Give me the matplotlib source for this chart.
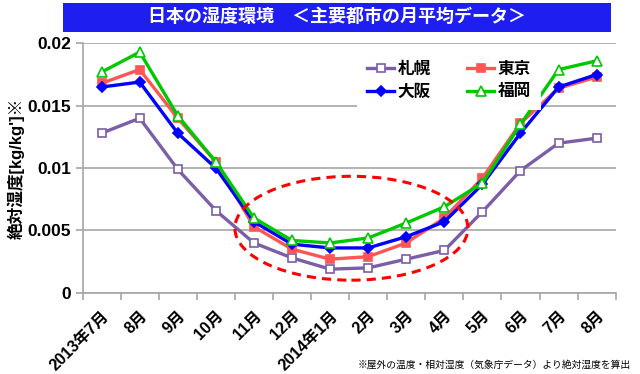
import numpy as np
import matplotlib.pyplot as plt
from matplotlib.patches import Ellipse, Rectangle
from matplotlib.ticker import FixedLocator, FuncFormatter

# -------------------------
# Daten
# -------------------------

months = ["2013年7月", "8月", "9月", "10月", "11月", "12月", "2014年1月",
          "2月", "3月", "4月", "5月", "6月", "7月", "8月"]

sapporo = [0.0128, 0.0140, 0.0099, 0.0066, 0.0040, 0.0028, 0.0019,
           0.0020, 0.0027, 0.0034, 0.0065, 0.0098, 0.0120, 0.0124]
tokyo = [0.0168, 0.0179, 0.0140, 0.0105, 0.0053, 0.0035, 0.0027,
         0.0029, 0.0040, 0.0060, 0.0092, 0.0136, 0.0164, 0.0173]
osaka = [0.0165, 0.0169, 0.0128, 0.0100, 0.0057, 0.0039, 0.0036,
         0.0036, 0.0045, 0.0057, 0.0087, 0.0128, 0.0165, 0.0175]
fukuoka = [0.0177, 0.0193, 0.0142, 0.0105, 0.0060, 0.0042, 0.0040,
           0.0044, 0.0056, 0.0069, 0.0088, 0.0135, 0.0179, 0.0186]

FONT = ["Liberation Sans", "Noto Sans CJK JP"]
plt.rcParams["font.family"] = FONT

# -------------------------
# Plot
# -------------------------

fig = plt.figure(figsize=(6.4, 3.74), dpi=100, facecolor="white")
ax = fig.add_axes([0.129, 0.217, 0.833, 0.667])

x = np.arange(len(months))

series = [
    ("札幌", sapporo, "#7B5EA7", "s", "white", 5.5),
    ("東京", tokyo, "#FF5555", "s", "#FF5555", 5.5),
    ("大阪", osaka, "#0000FF", "D", "#0000FF", 5),
    ("福岡", fukuoka, "#00C800", "^", "white", 7.5),
]

for name, vals, col, mk, mfc, ms in series:
    ax.plot(x, vals, color=col, lw=2.4, marker=mk, markersize=ms,
            markerfacecolor=mfc, markeredgecolor=col, markeredgewidth=1.2,
            label=name)

# Ellipse um die Wintermonate
ell = Ellipse((6.56, 0.00518), 6.12, 0.00833, fill=False,
              edgecolor="#FF0000", lw=2.2, ls=(0, (3, 2)), zorder=5)
ax.add_patch(ell)

ax.set_xlim(-0.5, len(months) - 0.5)
ax.set_ylim(0, 0.02)
ax.set_yticks([0, 0.005, 0.01, 0.015, 0.02])
ax.yaxis.set_major_formatter(FuncFormatter(lambda v, p: f"{v:g}"))
ax.grid(axis="y", color="#A6A6A6", lw=1.2)
ax.set_axisbelow(True)

ax.set_xticks(x)
ax.set_xticklabels(months, rotation=45, ha="right", rotation_mode="anchor",
                   fontsize=11.5, fontweight="bold")
ax.xaxis.set_minor_locator(FixedLocator(np.arange(-0.5, len(months), 1)))
ax.tick_params(axis="x", which="major", length=0, pad=11)
ax.tick_params(axis="x", which="minor", length=5, color="#A6A6A6", width=1.2)
ax.tick_params(axis="y", length=5, color="#A6A6A6", width=1.2, labelsize=12.5)
for lbl in ax.get_yticklabels():
    lbl.set_fontweight("bold")

for s in ["top", "right"]:
    ax.spines[s].set_visible(False)
for s in ["left", "bottom"]:
    ax.spines[s].set_color("#A6A6A6")
    ax.spines[s].set_linewidth(1.2)

ax.set_ylabel("絶対湿度[kg/kg']※", fontsize=12, fontweight="bold")
ax.yaxis.set_label_coords(-0.108, 0.5)

handles, labels = ax.get_legend_handles_labels()
order = [0, 2, 1, 3]
leg = ax.legend([handles[i] for i in order], [labels[i] for i in order],
                ncol=2, loc="upper left", bbox_to_anchor=(0.5, 1.0),
                frameon=True, fancybox=False, edgecolor="none",
                facecolor="white", framealpha=1, handlelength=1.6,
                handletextpad=0.2, columnspacing=2.2, labelspacing=0.45,
                borderpad=0.6, prop={"family": FONT, "weight": "bold", "size": 12})

# Titel
fig.patches.append(Rectangle((0.098, 0.915), 0.857, 0.078,
                             transform=fig.transFigure, facecolor="#1E1EF0",
                             edgecolor="none"))
fig.text(0.5265, 0.954, "日本の湿度環境　＜主要都市の月平均データ＞",
         color="white", fontsize=13, fontweight="bold", ha="center", va="center")

fig.text(0.985, 0.025, "※屋外の温度・相対湿度（気象庁データ）より絶対湿度を算出",
         fontsize=7, ha="right", va="center")

plt.savefig("out.png", dpi=100)
